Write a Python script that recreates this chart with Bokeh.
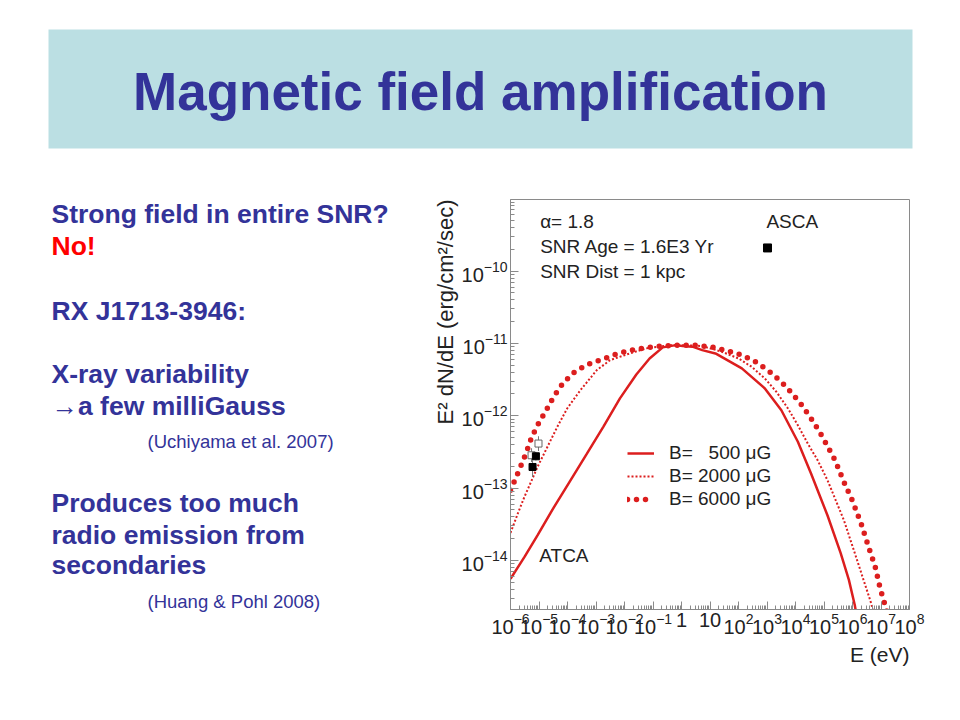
import math
from bokeh.plotting import figure
from bokeh.models import (Range1d, Label, FixedTicker, BoxAnnotation, Legend,
                          LegendItem, Title)
from bokeh.layouts import column, row
from bokeh.embed import file_html
from bokeh.resources import INLINE

# ---------------- data (log10 of E in eV, log10 of E^2 dN/dE) ----------------
b500_logE = [-6.0, -5.514, -5.053, -4.474, -3.895, -3.319, -2.739, -2.160, -1.585,
             -1.120, -0.658, -0.197, 0.035, 0.382, 0.729, 1.190, 2.117, 2.925, 3.504,
             4.083, 4.545, 5.124, 5.585, 5.873, 6.081, 6.24]
b500_logF = [-14.255, -13.956, -13.655, -13.263, -12.893, -12.524, -12.150, -11.760, -11.430,
             -11.208, -11.055, -11.024, -11.035, -11.045, -11.093, -11.139, -11.346, -11.623, -11.924,
             -12.36, -12.80, -13.38, -13.90, -14.27, -14.62, -15.0]

b2000_logE = [-6.0, -5.746, -5.514, -5.282, -5.053, -4.706, -4.359, -4.012, -3.548, -2.972,
              -2.507, -1.815, -1.238, -0.426, 0.035, 0.729, 1.423, 2.002, 2.463, 2.925,
              3.330, 3.736, 4.083, 4.430, 4.777, 5.124, 5.412, 5.700, 5.932, 6.164,
              6.393, 6.626, 6.72, 6.85]
b2000_logF = [-13.62, -13.355, -13.125, -12.917, -12.709, -12.432, -12.155, -11.90, -11.647, -11.37,
              -11.231, -11.139, -11.069, -11.024, -11.024, -11.037, -11.116, -11.208, -11.324, -11.485,
              -11.670, -11.90, -12.132, -12.385, -12.616, -12.893, -13.170, -13.447, -13.724, -14.0,
              -14.279, -14.557, -14.69, -14.85]

b6000_logE = [-6.0, -5.77, -5.59, -5.455, -5.26, -5.02, -4.74, -4.474, -4.15, -3.745,
              -3.284, -2.764, -2.22, -1.64, -1.005, -0.197, 0.497, 1.135, 1.596, 2.117,
              2.637, 3.098, 3.504, 3.885, 4.222, 4.545, 4.846, 5.124, 5.387, 5.70,
              5.991, 6.303, 6.567, 6.799, 6.973, 7.181, 7.3]
b6000_logF = [-13.03, -12.82, -12.65, -12.52, -12.30, -12.11, -11.92, -11.73, -11.546, -11.393,
              -11.29, -11.217, -11.139, -11.083, -11.047, -11.024, -11.024, -11.055, -11.102, -11.162,
              -11.263, -11.393, -11.532, -11.693, -11.855, -12.039, -12.224, -12.422, -12.616, -12.917,
              -13.170, -13.493, -13.817, -14.094, -14.393, -14.670, -14.85]

asca_logE = [3.018]
asca_logF = [-9.68]

atca_open_logE = [-5.261, -5.018]
atca_open_logF = [-12.547, -12.385]
atca_open_lo = [-12.64, -12.488]
atca_open_hi = [-12.45, -12.284]
atca_fill_logE = [-5.109, -5.226]
atca_fill_logF = [-12.561, -12.709]
atca_fill_lo = [-12.62, -12.848]
atca_fill_hi = [-12.50, -12.616]

x_tick_exps = list(range(-6, 9))
y_tick_exps = list(range(-14, -9))
legend_labels = ["B= \u2007500 \u03bcG", "B= 2000 \u03bcG", "B= 6000 \u03bcG"]

title_text = "Magnetic field amplification"
# text, style, size, colour, left x (px), centre y (px)
body_lines = [
    ("Strong field in entire SNR?", "bold", "26.5px", "#333399", 51, 213),
    ("No!", "bold", "26.5px", "#ff0000", 51, 245),
    ("RX J1713-3946:", "bold", "26.5px", "#333399", 51, 310),
    ("X-ray variability", "bold", "26.5px", "#333399", 51, 373),
    ("\u2192a few milliGauss", "bold", "26.5px", "#333399", 51, 405),
    ("(Uchiyama et al. 2007)", "normal", "18.5px", "#333399", 147, 441),
    ("Produces too much", "bold", "26.5px", "#333399", 51, 502),
    ("radio emission from", "bold", "26.5px", "#333399", 51, 534),
    ("secondaries", "bold", "26.5px", "#333399", 51, 564),
    ("(Huang & Pohl 2008)", "normal", "18.5px", "#333399", 147, 601),
]


def p10(vals):
    return [10 ** v for v in vals]


RED = "#dc1e1e"
INK = "#222222"
GRAY = "#8a8a8a"
FONT = "Liberation Sans"

W = 952
TITLE_H = 170
BODY_H = 712 - TITLE_H   # 542
TEXT_W = 430
CHART_W = W - TEXT_W     # 522
TOP_B, BOT_B = 29, 103   # chart frame: page y 199..609

# ---------------- title ----------------
t = figure(width=W, height=TITLE_H, x_range=Range1d(0, W), y_range=Range1d(TITLE_H, 0),
           toolbar_location=None, output_backend="svg", min_border=0,
           x_axis_location=None, y_axis_location=None)
t.grid.visible = False
t.outline_line_color = None
t.add_layout(BoxAnnotation(left=48, right=912, top=29, bottom=148,
                           fill_color="#bbdfe3", fill_alpha=1.0, line_color=None))
t.add_layout(Label(x=480, y=91, text=title_text, text_align="center", text_baseline="middle",
                   text_font=FONT, text_font_style="bold", text_font_size="53px",
                   text_color="#333399"))

# ---------------- body text (its own frame covers the whole panel) ----------------
tx = figure(width=TEXT_W, height=BODY_H, x_range=Range1d(0, TEXT_W),
            y_range=Range1d(TITLE_H + BODY_H, TITLE_H),
            toolbar_location=None, output_backend="svg", min_border=0,
            x_axis_location=None, y_axis_location=None)
tx.frame_align = False
tx.grid.visible = False
tx.outline_line_color = None
for txt, style, size, color, lx, ly in body_lines:
    tx.add_layout(Label(x=lx, y=ly, text=txt, text_align="left", text_baseline="middle",
                        text_font=FONT, text_font_style=style, text_font_size=size,
                        text_color=color))

# ---------------- chart ----------------
p = figure(width=CHART_W, height=BODY_H, x_axis_type="log", y_axis_type="log",
           x_range=Range1d(1e-6, 1e8), y_range=Range1d(10 ** -14.68, 10 ** -9.01),
           toolbar_location=None, output_backend="svg",
           min_border_left=76, min_border_right=43, min_border_top=TOP_B, min_border_bottom=BOT_B)
p.frame_align = False
p.grid.visible = False
p.outline_line_color = GRAY
p.background_fill_color = "white"

p.xaxis.ticker = FixedTicker(ticks=[10 ** k for k in x_tick_exps],
                             minor_ticks=[m * 10 ** k for k in x_tick_exps[:-1] for m in range(2, 10)])
p.yaxis.ticker = FixedTicker(ticks=[10 ** k for k in y_tick_exps],
                             minor_ticks=[m * 10 ** k for k in range(-15, -9) for m in range(2, 10)])
p.xaxis.major_label_overrides = {1: "1", 10: "10"}

for ax in (p.xaxis[0], p.yaxis[0]):
    ax.axis_line_color = GRAY
    ax.major_tick_line_color = GRAY
    ax.minor_tick_line_color = GRAY
    ax.major_tick_in = 8
    ax.major_tick_out = 0
    ax.minor_tick_in = 4
    ax.minor_tick_out = 0
    ax.major_label_text_font = FONT
    ax.major_label_text_font_size = "20px"
    ax.major_label_text_color = INK
    ax.major_label_standoff = 3

r1 = p.line(p10(b500_logE), p10(b500_logF), line_color=RED, line_width=2.5)
r2 = p.line(p10(b2000_logE), p10(b2000_logF), line_color=RED, line_width=2, line_dash="2 2")
r3 = p.line(p10(b6000_logE), p10(b6000_logF), line_color=RED, line_width=5.5,
            line_dash="0 9", line_cap="round")

# ATCA points with error bars
p.segment(x0=p10(atca_open_logE), y0=p10(atca_open_lo), x1=p10(atca_open_logE), y1=p10(atca_open_hi),
          line_color="#777777", line_width=1)
p.segment(x0=p10(atca_fill_logE), y0=p10(atca_fill_lo), x1=p10(atca_fill_logE), y1=p10(atca_fill_hi),
          line_color="#777777", line_width=1)
p.scatter(p10(atca_open_logE), p10(atca_open_logF), marker="square", size=7,
          fill_color="white", line_color="#666666", line_width=1)
p.scatter(p10(atca_fill_logE), p10(atca_fill_logF), marker="square", size=7,
          fill_color="black", line_color="black")
p.scatter(p10(asca_logE), p10(asca_logF), marker="square", size=8,
          fill_color="black", line_color="black")

legend = Legend(items=[LegendItem(label=legend_labels[0], renderers=[r1]),
                       LegendItem(label=legend_labels[1], renderers=[r2]),
                       LegendItem(label=legend_labels[2], renderers=[r3])],
                location=(117, 99), border_line_color=None, background_fill_alpha=0,
                padding=0, margin=0, spacing=1, glyph_width=27, glyph_height=22,
                label_height=22, label_standoff=15, label_text_font=FONT,
                label_text_font_size="19px", label_text_color=INK)
p.add_layout(legend)


def chart_label(txt, lx, ly, **kw):
    opts = dict(text_font=FONT, text_font_size="19px", text_color=INK,
                text_baseline="middle", text_align="left")
    opts.update(kw)
    p.add_layout(Label(x=10 ** lx, y=10 ** ly, text=txt, **opts))


chart_label("\u03b1= 1.8", -4.96, -9.316)
chart_label("SNR Age = 1.6E3 Yr", -4.96, -9.666)
chart_label("SNR Dist = 1 kpc", -4.96, -10.008)
chart_label("ASCA", 2.98, -9.316)
chart_label("ATCA", -4.99, -13.93)

# axis titles (ROOT style: right / top aligned)
p.add_layout(Title(text="E (eV)", align="right", text_font=FONT, text_font_size="21px",
                   text_font_style="normal", text_color=INK, standoff=8), "below")
p.add_layout(Title(text="E\u00b2 dN/dE (erg/cm\u00b2/sec)", align="right", text_font=FONT,
                   text_font_size="22px", text_font_style="normal", text_color=INK,
                   standoff=1), "left")

layout = column(t, row(tx, p))
open("out.html", "w").write(file_html(layout, INLINE))
